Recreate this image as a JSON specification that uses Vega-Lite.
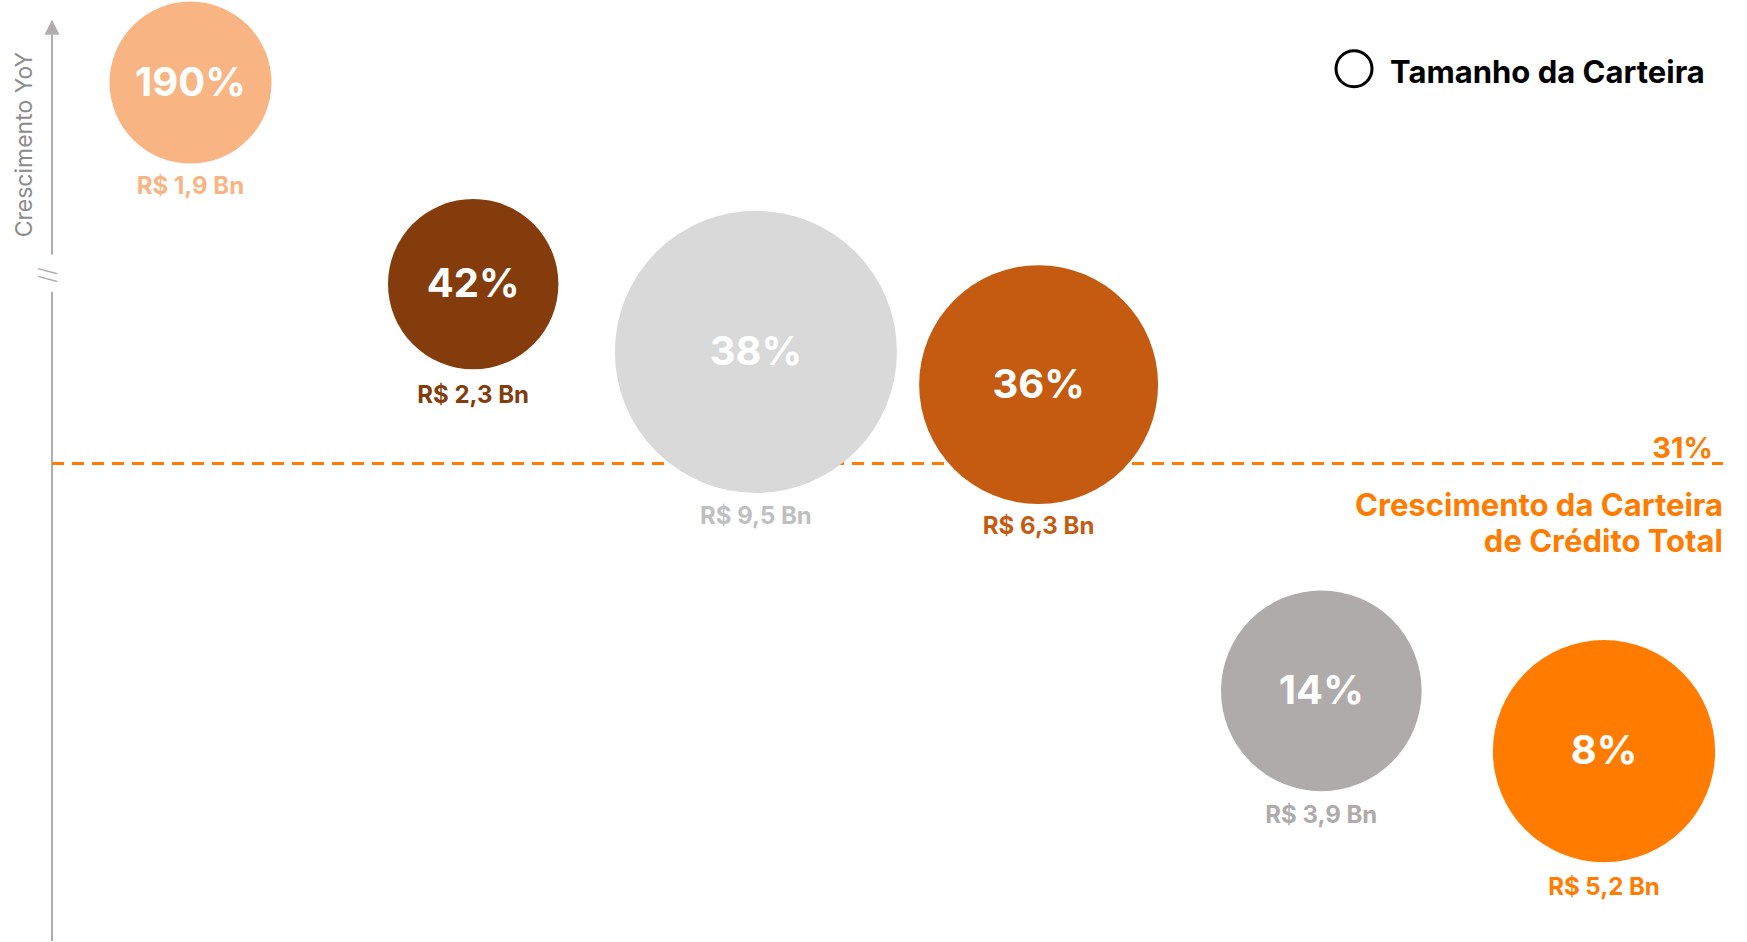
{
  "$schema": "https://vega.github.io/schema/vega-lite/v6.json",
  "width": 1747,
  "height": 942,
  "autosize": {"type": "fit", "contains": "padding"},
  "padding": 0,
  "background": "white",
  "config": {"view": {"stroke": null}, "font": "Inter"},
  "datasets": {
    "carteiras": [
      {"ordem": 1, "crescimento": 190, "carteira": 1.9, "pct": "190%", "rotulo": "R$ 1,9 Bn", "segmento": "Segmento 1"},
      {"ordem": 2, "crescimento": 42, "carteira": 2.3, "pct": "42%", "rotulo": "R$ 2,3 Bn", "segmento": "Segmento 2"},
      {"ordem": 3, "crescimento": 38, "carteira": 9.5, "pct": "38%", "rotulo": "R$ 9,5 Bn", "segmento": "Segmento 3"},
      {"ordem": 4, "crescimento": 36, "carteira": 6.3, "pct": "36%", "rotulo": "R$ 6,3 Bn", "segmento": "Segmento 4"},
      {"ordem": 5, "crescimento": 14, "carteira": 3.9, "pct": "14%", "rotulo": "R$ 3,9 Bn", "segmento": "Segmento 5"},
      {"ordem": 6, "crescimento": 8, "carteira": 5.2, "pct": "8%", "rotulo": "R$ 5,2 Bn", "segmento": "Segmento 6"}
    ]
  },
  "layer": [
    {
      "data": {"name": "carteiras"},
      "transform": [{"filter": "datum.crescimento > 100"}],
      "encoding": {
        "x": {"field": "ordem", "type": "quantitative", "scale": {"domain": [0.32614, 6.5058], "nice": false, "zero": false}, "axis": null},
        "y": {"field": "crescimento", "type": "quantitative", "scale": {"domain": [86, 200], "nice": false, "zero": false}, "axis": null}
      },
      "layer": [
        {
          "mark": {"type": "point", "shape": "circle", "filled": true, "opacity": 1, "strokeWidth": 0},
          "encoding": {
            "size": {"field": "carteira", "type": "quantitative", "scale": {"domain": [1.9, 9.5], "range": [26244, 79524], "zero": false, "nice": false}, "legend": null},
            "color": {"field": "segmento", "type": "nominal", "scale": {"domain": ["Segmento 1", "Segmento 2", "Segmento 3", "Segmento 4", "Segmento 5", "Segmento 6"], "range": ["#F9B483", "#843C0C", "#D9D9D9", "#C55A11", "#AFABAB", "#FF7C00"]}, "legend": null}
          }
        },
        {
          "mark": {"type": "text", "font": "Inter", "fontWeight": 700, "fontSize": 40, "color": "white", "align": "center", "baseline": "middle", "dy": 1},
          "encoding": {"text": {"field": "pct"}}
        },
        {
          "mark": {"type": "text", "font": "Inter", "fontWeight": 700, "fontSize": 24, "align": "center", "baseline": "middle", "dy": 104},
          "encoding": {
            "text": {"field": "rotulo"},
            "fill": {"field": "segmento", "type": "nominal", "scale": {"domain": ["Segmento 1", "Segmento 2", "Segmento 3", "Segmento 4", "Segmento 5", "Segmento 6"], "range": ["#F9B483", "#843C0C", "#BFBFBF", "#C55A11", "#AFABAB", "#FF7C00"]}, "legend": null}
          }
        }
      ]
    },
    {
      "layer": [
        {
          "data": {"values": [{}]},
          "mark": {"type": "rule", "color": "#B0ACAC", "strokeWidth": 2},
          "encoding": {"x": {"datum": 0.5101, "type": "quantitative", "scale": {"domain": [0.32614, 6.5058], "nice": false, "zero": false}, "axis": null}, "y": {"datum": 41.55, "type": "quantitative", "scale": {"type": "pow", "exponent": 1.4, "domain": [-16.41, 57.4], "nice": false, "zero": false}, "axis": null}, "y2": {"datum": -16.41}}
        },
        {
          "data": {"values": [{}]},
          "mark": {"type": "rule", "color": "#B0ACAC", "strokeWidth": 2},
          "encoding": {"x": {"datum": 0.5101, "type": "quantitative"}, "y": {"datum": 55.61, "type": "quantitative"}, "y2": {"datum": 43.69}}
        },
        {
          "data": {"values": [{}]},
          "mark": {"type": "point", "shape": "M0,-1L1,1L-1,1Z", "filled": true, "opacity": 1, "color": "#B0ACAC", "size": 225, "strokeWidth": 0},
          "encoding": {"x": {"datum": 0.5101, "type": "quantitative"}, "y": {"datum": 56.0, "type": "quantitative"}}
        },
        {
          "data": {"values": [{}]},
          "mark": {"type": "text", "text": "//", "font": "Inter", "fontWeight": 300, "fontSize": 22, "angle": 270, "color": "#B0ACAC", "align": "center", "baseline": "middle"},
          "encoding": {"x": {"datum": 0.496, "type": "quantitative"}, "y": {"datum": 42.52, "type": "quantitative"}}
        },
        {
          "data": {"values": [{}]},
          "mark": {"type": "text", "text": "Crescimento YoY", "font": "Inter", "fontWeight": 400, "fontSize": 23, "angle": 270, "color": "#8C8C8C", "align": "center", "baseline": "middle"},
          "encoding": {"x": {"datum": 0.4146, "type": "quantitative"}, "y": {"datum": 49.8, "type": "quantitative"}}
        },
        {
          "data": {"values": [{}]},
          "mark": {"type": "rule", "color": "#FF7C00", "strokeWidth": 3, "strokeDash": [12, 8]},
          "encoding": {"x": {"datum": 0.5101, "type": "quantitative"}, "x2": {"datum": 6.4209}, "y": {"datum": 31, "type": "quantitative"}}
        },
        {
          "data": {"name": "carteiras"},
          "transform": [{"filter": "datum.crescimento <= 100"}],
          "mark": {"type": "point", "shape": "circle", "filled": true, "opacity": 1, "strokeWidth": 0},
          "encoding": {
            "x": {"field": "ordem", "type": "quantitative"},
            "y": {"field": "crescimento", "type": "quantitative"},
            "size": {"field": "carteira", "type": "quantitative", "scale": {"domain": [1.9, 9.5], "range": [26244, 79524], "zero": false, "nice": false}, "legend": null},
            "color": {"field": "segmento", "type": "nominal", "scale": {"domain": ["Segmento 1", "Segmento 2", "Segmento 3", "Segmento 4", "Segmento 5", "Segmento 6"], "range": ["#F9B483", "#843C0C", "#D9D9D9", "#C55A11", "#AFABAB", "#FF7C00"]}, "legend": null}
          }
        },
        {
          "data": {"name": "carteiras"},
          "transform": [{"filter": "datum.crescimento <= 100"}],
          "mark": {"type": "text", "font": "Inter", "fontWeight": 700, "fontSize": 40, "color": "white", "align": "center", "baseline": "middle", "dy": 1},
          "encoding": {
            "x": {"field": "ordem", "type": "quantitative"},
            "y": {"field": "crescimento", "type": "quantitative"},
            "text": {"field": "pct"}
          }
        },
        {
          "data": {"name": "carteiras"},
          "transform": [{"filter": "datum.ordem == 2"}],
          "mark": {"type": "text", "font": "Inter", "fontWeight": 700, "fontSize": 24, "align": "center", "baseline": "middle", "dy": 112},
          "encoding": {
            "x": {"field": "ordem", "type": "quantitative"},
            "y": {"field": "crescimento", "type": "quantitative"},
            "text": {"field": "rotulo"},
            "fill": {"field": "segmento", "type": "nominal", "legend": null}
          }
        },
        {
          "data": {"name": "carteiras"},
          "transform": [{"filter": "datum.ordem == 3"}],
          "mark": {"type": "text", "font": "Inter", "fontWeight": 700, "fontSize": 24, "align": "center", "baseline": "middle", "dy": 165},
          "encoding": {
            "x": {"field": "ordem", "type": "quantitative"},
            "y": {"field": "crescimento", "type": "quantitative"},
            "text": {"field": "rotulo"},
            "fill": {"field": "segmento", "type": "nominal", "legend": null}
          }
        },
        {
          "data": {"name": "carteiras"},
          "transform": [{"filter": "datum.ordem == 4"}],
          "mark": {"type": "text", "font": "Inter", "fontWeight": 700, "fontSize": 24, "align": "center", "baseline": "middle", "dy": 142},
          "encoding": {
            "x": {"field": "ordem", "type": "quantitative"},
            "y": {"field": "crescimento", "type": "quantitative"},
            "text": {"field": "rotulo"},
            "fill": {"field": "segmento", "type": "nominal", "legend": null}
          }
        },
        {
          "data": {"name": "carteiras"},
          "transform": [{"filter": "datum.ordem == 5"}],
          "mark": {"type": "text", "font": "Inter", "fontWeight": 700, "fontSize": 24, "align": "center", "baseline": "middle", "dy": 125},
          "encoding": {
            "x": {"field": "ordem", "type": "quantitative"},
            "y": {"field": "crescimento", "type": "quantitative"},
            "text": {"field": "rotulo"},
            "fill": {"field": "segmento", "type": "nominal", "legend": null}
          }
        },
        {
          "data": {"name": "carteiras"},
          "transform": [{"filter": "datum.ordem == 6"}],
          "mark": {"type": "text", "font": "Inter", "fontWeight": 700, "fontSize": 24, "align": "center", "baseline": "middle", "dy": 137},
          "encoding": {
            "x": {"field": "ordem", "type": "quantitative"},
            "y": {"field": "crescimento", "type": "quantitative"},
            "text": {"field": "rotulo"},
            "fill": {"field": "segmento", "type": "nominal", "legend": null}
          }
        },
        {
          "data": {"values": [{}]},
          "mark": {"type": "text", "text": "31%", "font": "Inter", "fontWeight": 700, "fontSize": 29, "color": "#FF7C00", "align": "right", "baseline": "alphabetic", "dy": -5},
          "encoding": {"x": {"datum": 6.3855, "type": "quantitative"}, "y": {"datum": 31, "type": "quantitative"}}
        },
        {
          "data": {"values": [{}]},
          "mark": {"type": "text", "text": ["Crescimento da Carteira", "de Crédito Total"], "font": "Inter", "fontWeight": 700, "fontSize": 31, "lineHeight": 36, "color": "#FF7C00", "align": "right", "baseline": "alphabetic", "dy": 53},
          "encoding": {"x": {"datum": 6.4209, "type": "quantitative"}, "y": {"datum": 31, "type": "quantitative"}}
        },
        {
          "data": {"values": [{}]},
          "mark": {"type": "point", "shape": "circle", "filled": false, "opacity": 1, "color": "black", "strokeWidth": 3, "size": 1296},
          "encoding": {"x": {"datum": 5.1157, "type": "quantitative"}, "y": {"datum": 53.84, "type": "quantitative"}}
        },
        {
          "data": {"values": [{}]},
          "mark": {"type": "text", "text": "Tamanho da Carteira", "font": "Inter", "fontWeight": 700, "fontSize": 31, "color": "black", "align": "left", "baseline": "alphabetic"},
          "encoding": {"x": {"datum": 5.2431, "type": "quantitative"}, "y": {"datum": 53.1, "type": "quantitative"}}
        }
      ]
    }
  ],
  "resolve": {"scale": {"y": "independent"}}
}
